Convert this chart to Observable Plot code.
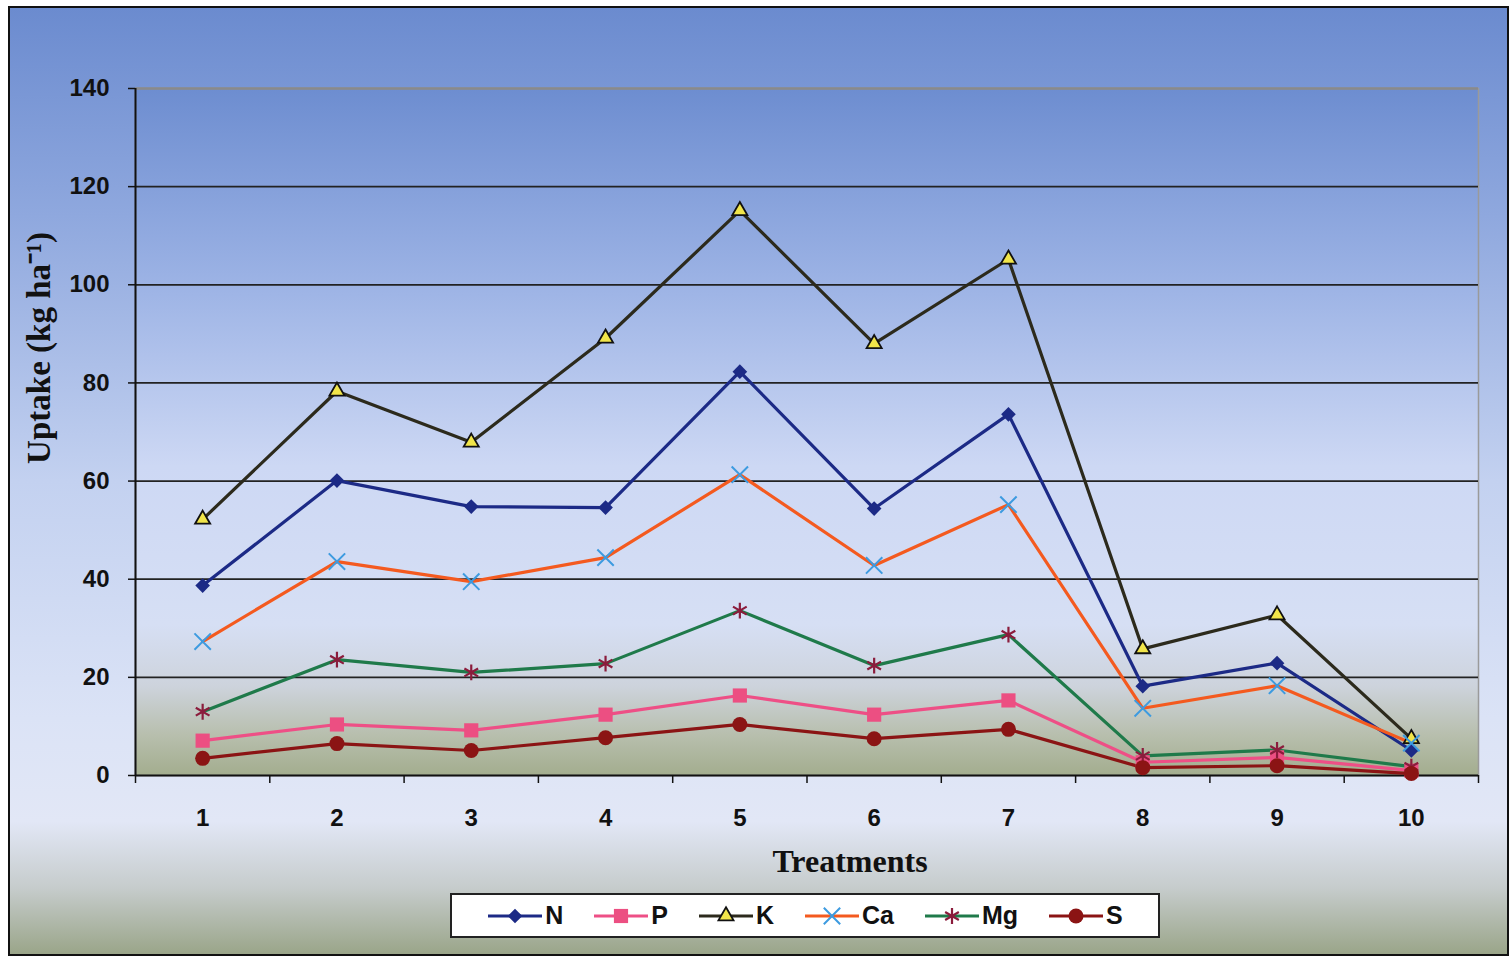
<!DOCTYPE html>
<html>
<head>
<meta charset="utf-8">
<script src="https://cdn.jsdelivr.net/npm/d3@7"></script>
<script src="https://cdn.jsdelivr.net/npm/@observablehq/plot@0.6"></script>
<style>
  body { margin: 0; background: #ffffff; }
  #frame {
    position: absolute; left: 8px; top: 6px; width: 1497px; height: 946px;
    border: 2px solid #111;
    background: linear-gradient(to bottom, #6b8bcf 0%, #8fa8de 22%, #c3d1f0 50%, #dbe3f6 75%, #e2e7f6 86%, #c6cccc 93%, #9aa589 100%);
    overflow: hidden;
  }
  #chart { position: absolute; left: 0; top: 0; }
  #legend {
    position: absolute; left: 440px; top: 885px; width: 710px; height: 45px;
    box-sizing: border-box; border: 2px solid #222; background: #fff;
    display: flex; align-items: center; justify-content: center; gap: 30px;
    font-family: "Liberation Sans", Arial, sans-serif; font-weight: bold; font-size: 25px; color: #111;
  }
  .item { display: flex; align-items: center; gap: 2px; }
  .item svg { display: block; }
</style>
</head>
<body>
<div id="frame">
  <div id="chart"></div>
  <div id="legend"></div>
</div>
<script>
// ---- data ----
const treatments = [1, 2, 3, 4, 5, 6, 7, 8, 9, 10];
const N  = [38.7, 60.1, 54.8, 54.6, 82.3, 54.4, 73.6, 18.2, 22.9, 5.1];
const P  = [7.1, 10.4, 9.2, 12.4, 16.3, 12.4, 15.3, 2.7, 3.7, 1.0];
const K  = [52.2, 78.3, 67.9, 89.1, 115.1, 88.0, 105.2, 25.8, 32.7, 7.5];
const Ca = [27.3, 43.6, 39.5, 44.4, 61.3, 42.8, 55.2, 13.7, 18.3, 6.6];
const Mg = [13.0, 23.6, 21.0, 22.8, 33.6, 22.4, 28.7, 4.0, 5.2, 1.8];
const S  = [3.5, 6.5, 5.1, 7.7, 10.4, 7.5, 9.4, 1.6, 2.0, 0.4];
const seriesNames = ["N", "P", "K", "Ca", "Mg", "S"];
const seriesValues = [N, P, K, Ca, Mg, S];
const yTicks = [0, 20, 40, 60, 80, 100, 120, 140];
const xTitle = "Treatments";
const yTitle = "Uptake (kg ha\u207B\u00B9)";

// ---- styles ----
const styles = {
  N:  {line: "#1c2a86", symbol: "diamond2", fill: "#1c2a86", stroke: "none", r: 6.6, sw: 0},
  P:  {line: "#ee4f86", symbol: "square",   fill: "#ec4f82", stroke: "none", r: 8,   sw: 0},
  K:  {line: "#2c2a1c", symbol: "triangle", fill: "#f1e54a", stroke: "#111", r: 5.6, sw: 1.8},
  Ca: {line: "#f45a1f", symbol: "times",    fill: "none",    stroke: "#3d9be0", r: 7.5, sw: 2},
  Mg: {line: "#1f7a4a", symbol: "asterisk", fill: "none",    stroke: "#8b1c3c", r: 7.5, sw: 2.2},
  S:  {line: "#8b1414", symbol: "circle",   fill: "#8b1414", stroke: "none", r: 7.5, sw: 0}
};
const d3Symbols = {diamond2: d3.symbolDiamond2, square: d3.symbolSquare, triangle: d3.symbolTriangle,
  times: d3.symbolTimes, asterisk: d3.symbolAsterisk, circle: d3.symbolCircle};

const rows = seriesNames.map((name, i) => treatments.map((t, j) => ({series: name, t, v: seriesValues[i][j]})));
const xDomain = [treatments[0] - 0.5, treatments[treatments.length - 1] + 0.5];
const boundaries = d3.range(xDomain[0], xDomain[1] + 0.01, 1);

const marks = [
  Plot.frame({fill: "url(#plotGrad)", stroke: "#9a9a9a", strokeWidth: 1.5}),
  Plot.gridY({ticks: yTicks.filter(d => d > 0 && d < 140), stroke: "#222", strokeOpacity: 1, strokeWidth: 1.8}),
  Plot.gridY({ticks: [yTicks[yTicks.length - 1]], stroke: "#8a8a8a", strokeOpacity: 1, strokeWidth: 2.4}),
  Plot.axisY({ticks: yTicks, tickSize: 7, tickPadding: 19, stroke: "#111", strokeWidth: 1.5, label: null}),
  Plot.axisX({ticks: boundaries, tickSize: 8, tickFormat: () => "", stroke: "#111", strokeWidth: 1.5, label: null}),
  Plot.axisX({ticks: treatments, tickSize: 0, tickPadding: 33, tickFormat: d => String(d), label: null}),
  Plot.ruleY([yTicks[0]], {stroke: "#111", strokeWidth: 2}),
  Plot.ruleX([xDomain[0]], {stroke: "#111", strokeWidth: 2}),
];
seriesNames.forEach((name, i) => {
  const st = styles[name];
  marks.push(Plot.line(rows[i], {x: "t", y: "v", stroke: st.line, strokeWidth: 3.2}));
});
seriesNames.forEach((name, i) => {
  const st = styles[name];
  marks.push(Plot.dot(rows[i], {x: "t", y: "v", symbol: () => st.symbol, r: st.r, fill: st.fill, stroke: st.stroke, strokeWidth: st.sw}));
});
marks.push(
  Plot.text([xTitle], {text: d => d, frameAnchor: "bottom", lineAnchor: "middle", textAnchor: "middle", dx: 43, dy: 86,
    fontFamily: "Liberation Serif, Times New Roman, serif", fontSize: 32, fontWeight: "bold", fill: "#111"}),
  Plot.text([yTitle], {text: d => d, frameAnchor: "left", lineAnchor: "middle", textAnchor: "middle", dx: -96, dy: -84, rotate: -90,
    fontFamily: "Liberation Serif, Times New Roman, serif", fontSize: 33, fontWeight: "bold", fill: "#111"})
);

const chart = Plot.plot({
  width: 1497,
  height: 870,
  marginLeft: 125,
  marginRight: 29,
  marginTop: 80,
  marginBottom: 103,
  style: {background: "transparent", overflow: "visible", fontFamily: "Liberation Sans, Arial, sans-serif", fontSize: "24px", fontWeight: "bold", color: "#111"},
  x: {domain: xDomain, label: null},
  y: {domain: [yTicks[0], yTicks[yTicks.length - 1]], label: null},
  symbol: {type: "identity"},
  marks
});

// gradient definition for plot area
const svgSel = d3.select(chart.tagName === "svg" ? chart : chart.querySelector("svg"));
const grad = svgSel.insert("defs", ":first-child").append("linearGradient")
  .attr("id", "plotGrad").attr("x1", 0).attr("y1", 0).attr("x2", 0).attr("y2", 1);
[[0, "#6d8dd0"], [0.3, "#9fb5e6"], [0.55, "#cdd8f4"], [0.78, "#d6dff4"], [0.87, "#cdd3dc"], [0.94, "#b8bfae"], [1, "#a3ad8e"]]
  .forEach(([o, c]) => grad.append("stop").attr("offset", o).attr("stop-color", c));

document.getElementById("chart").appendChild(chart);

// legend
const legend = d3.select("#legend");
seriesNames.forEach(name => {
  const st = styles[name];
  const item = legend.append("div").attr("class", "item");
  const sw = item.append("svg").attr("width", 56).attr("height", 22);
  sw.append("line").attr("x1", 1).attr("x2", 55).attr("y1", 11).attr("y2", 11)
    .attr("stroke", st.line).attr("stroke-width", 3.2);
  sw.append("path").attr("transform", "translate(28,11)")
    .attr("d", d3.symbol(d3Symbols[st.symbol], Math.PI * st.r * st.r)())
    .attr("fill", st.fill).attr("stroke", st.stroke === "none" ? null : st.stroke).attr("stroke-width", st.sw);
  item.append("span").text(name);
});
</script>
</body>
</html>
